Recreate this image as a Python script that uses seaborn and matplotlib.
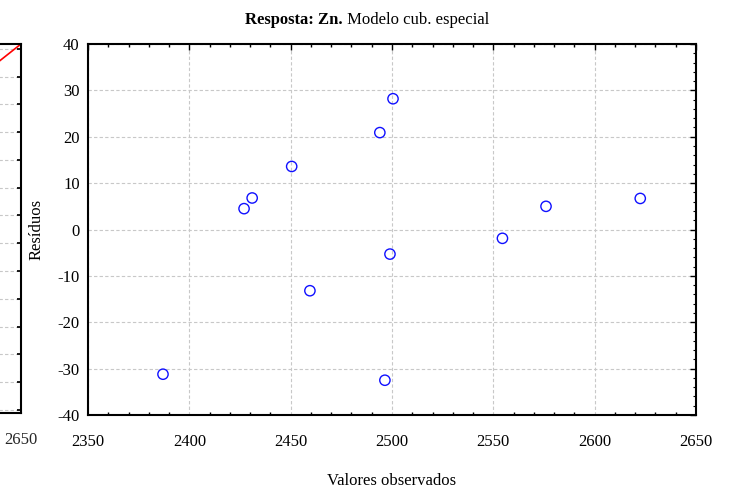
import matplotlib
matplotlib.use("Agg")
import matplotlib.pyplot as plt
import seaborn as sns
import pandas as pd
from matplotlib.ticker import MultipleLocator

sns.set_theme(style="white")
plt.rcParams['font.family'] = ['Liberation Serif', 'DejaVu Serif']
plt.rcParams['axes.unicode_minus'] = False

# Data
observed = [2387, 2427, 2431, 2450.5, 2459.5, 2494, 2500.5, 2499, 2496.5, 2554.5, 2576, 2622.5]
residuals = [-31.2, 4.5, 6.8, 13.6, -13.2, 20.9, 28.2, -5.3, -32.5, -1.9, 5.0, 6.7]
x_ticks = [2350, 2400, 2450, 2500, 2550, 2600, 2650]
y_ticks = [-40, -30, -20, -10, 0, 10, 20, 30, 40]
# neighbouring (cropped) panel: predicted vs observed reference line
line_x = [2350, 2650]
line_y = [2350, 2650]

df = pd.DataFrame({"Valores observados": observed, "Resíduos": residuals})

fig = plt.figure(figsize=(7.34, 4.93), dpi=100)

# Cropped left panel
axl = fig.add_axes([-0.8, 0.1623, 0.8286, 0.7485])
sns.lineplot(x=line_x, y=line_y, ax=axl, color="red", linewidth=1.2)
axl.set_xlim(2350, 2650)
axl.set_ylim(2420, 2650)
axl.set_xticks([2650])
axl.set_xticklabels(["2650"], fontsize=12)
axl.yaxis.set_major_locator(MultipleLocator(17.3))
axl.yaxis.set_ticklabels([])
axl.grid(True, axis="y", color="#c8c8c8", linestyle=(0, (3, 2)), linewidth=0.8)
axl.tick_params(axis="y", direction="in", right=True, left=False, length=3, color="black")
axl.tick_params(axis="x", direction="in", length=0, pad=14)
for s in axl.spines.values():
    s.set_color("black")
    s.set_linewidth(1.5)

# Main panel
ax = fig.add_axes([0.1199, 0.1582, 0.8283, 0.7525])
sns.scatterplot(data=df, x="Valores observados", y="Resíduos", ax=ax,
                marker="o", s=55, facecolor="none", edgecolor="#1010ff",
                linewidth=1.0, zorder=3)
ax.set_xlim(2350, 2650)
ax.set_ylim(-40, 40)
ax.set_xticks(x_ticks)
ax.set_yticks(y_ticks)
ax.xaxis.set_minor_locator(MultipleLocator(10))
ax.yaxis.set_minor_locator(MultipleLocator(2))
ax.tick_params(axis="both", which="major", direction="in", length=4, width=1,
               color="black", labelsize=12, top=True, right=True)
ax.tick_params(axis="x", which="major", pad=14)
ax.tick_params(axis="y", which="major", pad=6)
ax.tick_params(axis="x", which="minor", direction="in", length=2.5, width=1,
               color="black", top=True, bottom=True)
ax.tick_params(axis="y", which="minor", direction="in", length=2, width=0.8,
               color="black", left=False, right=True)
for lab in ax.get_xticklabels() + ax.get_yticklabels():
    lab.set_color("black")
ax.grid(True, which="major", color="#c8c8c8", linestyle=(0, (3, 2)), linewidth=0.8)
ax.set_axisbelow(True)
for s in ax.spines.values():
    s.set_color("black")
    s.set_linewidth(1.5)
ax.set_xlabel("Valores observados", fontsize=12, color="black", labelpad=16)
ax.set_ylabel("Resíduos", fontsize=12, color="black", labelpad=9)

# Title (bold + regular parts)
fig.text(0.5, 0.96, "Resposta: Zn.", fontsize=12, fontweight="bold",
         ha="right", va="center", color="black")
fig.text(0.5, 0.96, " Modelo cub. especial", fontsize=12, ha="left",
         va="center", color="black")
fig.canvas.draw()
r = fig.canvas.get_renderer()
texts = fig.texts
w1 = texts[0].get_window_extent(r).width
w2 = texts[1].get_window_extent(r).width
shift = (w1 - w2) / 2 / fig.bbox.width
texts[0].set_x(0.5 + shift)
texts[1].set_x(0.5 + shift)

fig.savefig("out.png", dpi=100)
